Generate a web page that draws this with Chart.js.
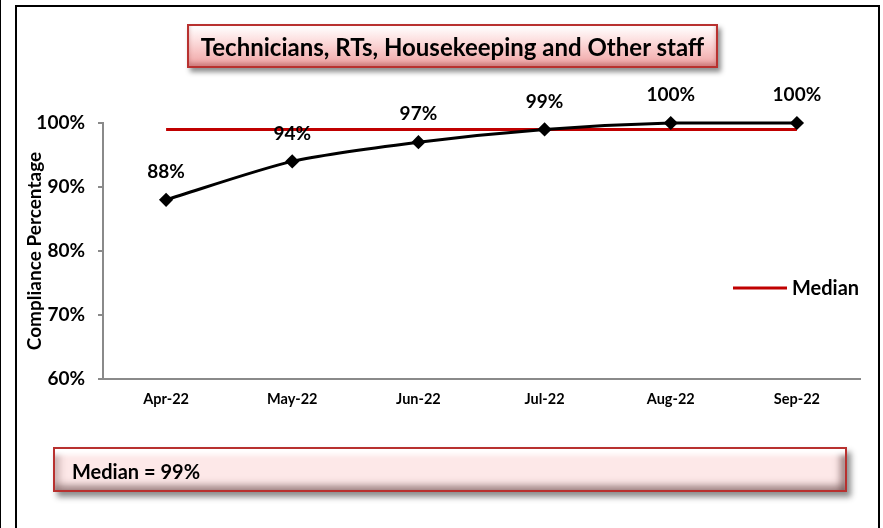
<!DOCTYPE html>
<html>
<head>
<meta charset="utf-8">
<script src="https://cdn.jsdelivr.net/npm/chart.js"></script>
<style>
body { margin: 0; background: #fff; }
#wrap { position: relative; width: 883px; height: 528px; overflow: hidden; font-family: Lato, "Open Sans", sans-serif; }
#complianceChart { position: absolute; left: 0; top: 0; }
.thin-line { position: absolute; left: 0; top: 0; width: 1px; height: 528px; background: #000; }
.frame { position: absolute; left: 15px; top: 5px; width: 861px; height: 600px; border: 2px solid #000; }
.title-box {
    position: absolute; left: 187px; top: 24px; width: 527px; height: 40px;
    border: 2px solid #b8312f;
    background: linear-gradient(to bottom, #ffffff 0%, #fde4e4 30%, #f7c3c3 65%, #eea3a3 100%);
    box-shadow: 3px 4px 5px rgba(0,0,0,0.45), inset 0 -3px 4px rgba(140,50,50,0.35);
    text-align: center; line-height: 41px;
    font-weight: bold; font-size: 24px; color: #000;
}
.median-box {
    position: absolute; left: 53px; top: 447px; width: 773px; height: 41px;
    border: 2px solid #b8312f;
    background: #fde8e8;
    box-shadow: 4px 5px 6px rgba(0,0,0,0.45),
        inset 0 9px 5px -3px #ffffff,
        inset -9px 0 7px -4px rgba(90,60,60,0.55),
        inset 9px 0 7px -4px rgba(120,90,90,0.35),
        inset 0 -9px 7px -4px rgba(90,60,60,0.5);
    line-height: 45px; padding-left: 17px; box-sizing: content-box;
    font-weight: bold; font-size: 20px; color: #000;
}
</style>
</head>
<body>
<div id="wrap">
    <canvas id="complianceChart" width="883" height="528"></canvas>
    <div class="thin-line"></div>
    <div class="frame"></div>
    <div class="title-box">Technicians, RTs, Housekeeping and Other staff</div>
    <div class="median-box">Median = 99%</div>
</div>
<script>
// chart values
var months = ["Apr-22", "May-22", "Jun-22", "Jul-22", "Aug-22", "Sep-22"];
var compliance = [88, 94, 97, 99, 100, 100];
var median = [99, 99, 99, 99, 99, 99];
var yTicks = [60, 70, 80, 90, 100];

var fontFamily = "Lato, 'Open Sans', sans-serif";
var axisGrey = "#8a8a8a";
var medianRed = "#c00000";

// draws the % labels over the points and the little "Median" legend on the right
var labelPlugin = {
    id: "labelPlugin",
    afterDatasetsDraw: function (chart) {
        var ctx = chart.ctx;
        var meta = chart.getDatasetMeta(0);
        ctx.save();
        ctx.fillStyle = "#000";
        ctx.font = "bold 19px " + fontFamily;
        ctx.textAlign = "center";
        ctx.textBaseline = "middle";
        meta.data.forEach(function (pt, i) {
            ctx.fillText(compliance[i] + "%", pt.x, pt.y - 28);
        });

        // legend entry
        var area = chart.chartArea;
        var ly = area.top + 165;
        ctx.strokeStyle = medianRed;
        ctx.lineWidth = 3;
        ctx.beginPath();
        ctx.moveTo(733, ly);
        ctx.lineTo(787, ly);
        ctx.stroke();
        ctx.textAlign = "left";
        ctx.font = "bold 20px " + fontFamily;
        ctx.fillText("Median", 792, ly + 1);
        ctx.restore();
    }
};

var chartCanvas = document.getElementById("complianceChart");
var complianceChart = new Chart(chartCanvas, {
    type: "line",
    data: {
        labels: months,
        datasets: [
            {
                label: "Compliance",
                data: compliance,
                borderColor: "#000",
                backgroundColor: "#000",
                borderWidth: 3,
                pointStyle: "rectRot",
                pointRadius: 5,
                pointBackgroundColor: "#000",
                pointBorderColor: "#000",
                tension: 0.25,
                clip: false,
                order: 0
            },
            {
                label: "Median",
                data: median,
                borderColor: medianRed,
                borderWidth: 3,
                pointRadius: 0,
                clip: false,
                order: 1
            }
        ]
    },
    options: {
        responsive: false,
        animation: false,
        layout: { padding: { left: 20, right: 23, top: 123, bottom: 0 } },
        plugins: {
            legend: { display: false },
            tooltip: { enabled: false }
        },
        scales: {
            x: {
                offset: true,
                grid: { display: false, drawTicks: false },
                border: { color: axisGrey, width: 2 },
                ticks: {
                    color: "#000",
                    padding: 12,
                    font: { family: fontFamily, size: 14.5, weight: "bold" }
                },
                afterFit: function (scale) { scale.height = 149; }
            },
            y: {
                min: yTicks[0],
                max: yTicks[yTicks.length - 1],
                grid: { drawOnChartArea: false, tickLength: 5, color: axisGrey, lineWidth: 2 },
                border: { color: axisGrey, width: 2 },
                ticks: {
                    stepSize: 10,
                    color: "#000",
                    padding: 13,
                    font: { family: fontFamily, size: 19, weight: "bold" },
                    callback: function (v) { return v + "%"; }
                },
                title: {
                    display: true,
                    text: "Compliance Percentage",
                    color: "#000",
                    padding: { top: 3, bottom: 0 },
                    font: { family: fontFamily, size: 19, weight: "bold" }
                },
                afterFit: function (scale) { scale.width = 83; }
            }
        }
    },
    plugins: [labelPlugin]
});
</script>
</body>
</html>
